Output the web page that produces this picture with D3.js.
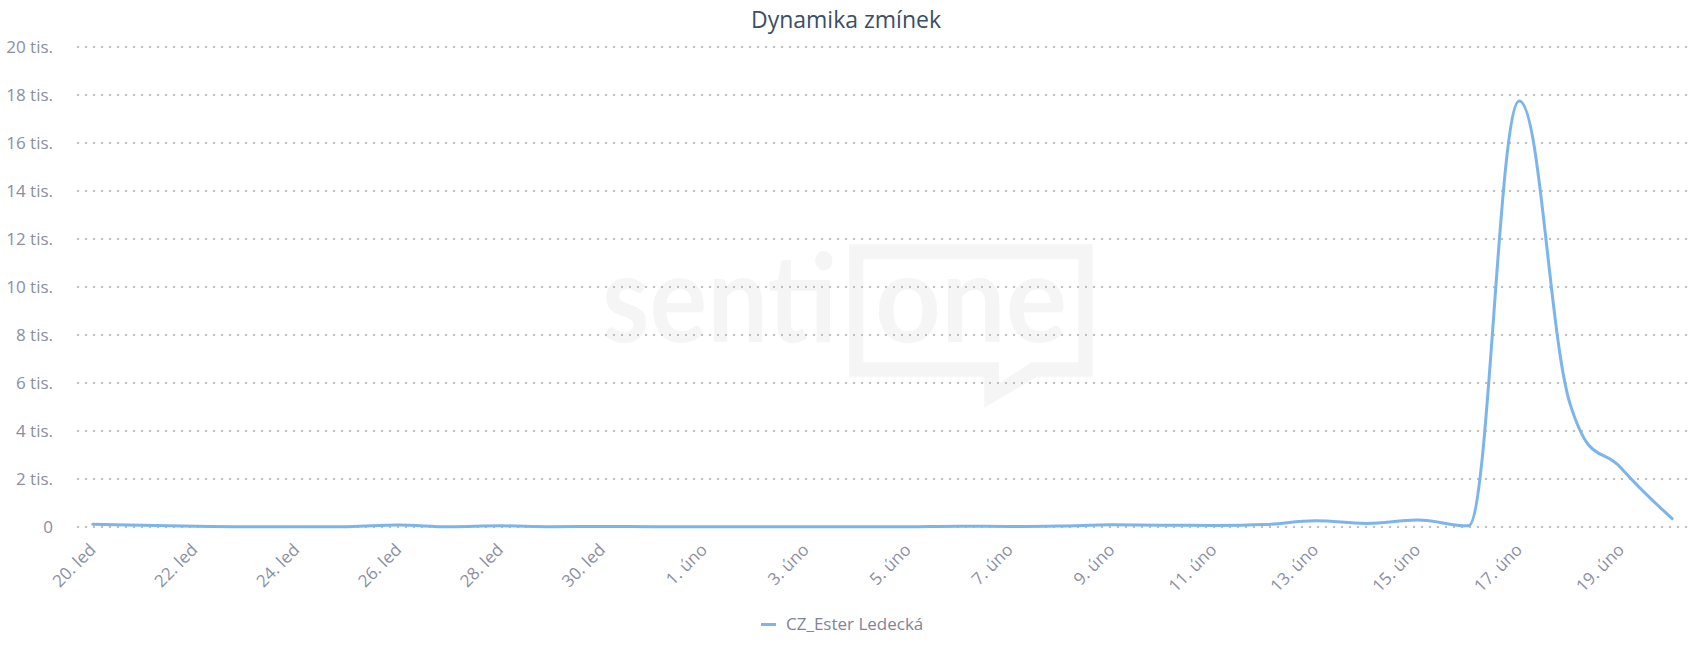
<!DOCTYPE html>
<html>
<head>
<meta charset="utf-8">
<script src="https://cdn.jsdelivr.net/npm/d3@7"></script>
<style>
  html, body { margin: 0; padding: 0; background: #ffffff; }
  svg { display: block; font-family: "Open Sans", sans-serif; }
</style>
</head>
<body>
<svg id="chart" width="1692" height="652"></svg>
<script>
// ---- data ----
const title = "Dynamika zmínek";
const seriesName = "CZ_Ester Ledecká";
const categories = [
  "20. led","21. led","22. led","23. led","24. led","25. led","26. led","27. led",
  "28. led","29. led","30. led","31. led",
  "1. úno","2. úno","3. úno","4. úno","5. úno","6. úno","7. úno","8. úno","9. úno",
  "10. úno","11. úno","12. úno","13. úno","14. úno","15. úno","16. úno","17. úno",
  "18. úno","19. úno","20. úno"
];
const mentions = [
  110, 75, 30, 10, 10, 15, 80, 10,
  50, 15, 20, 15,
  10, 10, 10, 10, 15, 35, 25, 45, 90,
  75, 65, 100, 260, 150, 290, 50, 17750,
  5100, 2450, 350
];
const yTicks = [0, 2000, 4000, 6000, 8000, 10000, 12000, 14000, 16000, 18000, 20000];
const yTickLabels = ["0","2 tis.","4 tis.","6 tis.","8 tis.","10 tis.","12 tis.","14 tis.","16 tis.","18 tis.","20 tis."];
const xTickLabels = categories.filter((d, i) => i % 2 === 0);

// ---- layout ----
const W = 1692, H = 652;
const plotLeft = 77, plotRight = 1688, plotTop = 47, plotBottom = 527;
const lineColor = "#7cb5ec";
const labelColor = "#8a8fa4";

const svg = d3.select("#chart");
svg.append("rect").attr("width", W).attr("height", H).attr("fill", "#ffffff");

const x = d3.scalePoint().domain(categories).range([plotLeft, plotRight]).padding(0.31);
const y = d3.scaleLinear().domain([0, 20000]).range([plotBottom, plotTop]);

// ---- watermark ----
const wm = svg.append("g").attr("fill", "#f5f5f5");
wm.append("text").attr("x", 602).attr("y", 342)
  .attr("font-family", "Lato, sans-serif").attr("font-weight", 700)
  .attr("font-size", 122).attr("textLength", 235).attr("lengthAdjust", "spacingAndGlyphs")
  .text("senti");
wm.append("text").attr("x", 875).attr("y", 342)
  .attr("font-family", "Lato, sans-serif").attr("font-weight", 700)
  .attr("font-size", 122).attr("textLength", 192).attr("lengthAdjust", "spacingAndGlyphs")
  .text("one");
wm.append("path").attr("fill-rule", "evenodd")
  .attr("d", "M849,244.3H1092.7V376.7H1036.7L984.3,407.7V376.7H849Z" +
             "M863.3,259.3H1078.3V362.3H1031.7L999,383.3V362.3H863.3Z");

// ---- grid ----
const grid = svg.append("g");
grid.selectAll("line").data(yTicks).join("line")
  .attr("x1", plotLeft).attr("x2", plotRight)
  .attr("y1", d => y(d)).attr("y2", d => y(d))
  .attr("stroke", "#bdbdbd").attr("stroke-width", 2)
  .attr("stroke-dasharray", "2,6");

// ---- y labels ----
svg.append("g").selectAll("text").data(yTicks).join("text")
  .attr("x", 53).attr("y", d => y(d) + 6)
  .attr("text-anchor", "end")
  .attr("font-size", 17).attr("fill", labelColor)
  .text((d, i) => yTickLabels[i]);

// ---- x labels ----
svg.append("g").selectAll("text").data(xTickLabels).join("text")
  .attr("text-anchor", "end")
  .attr("font-size", 17).attr("fill", labelColor)
  .attr("transform", d => `translate(${x(d) + 4},${plotBottom + 24}) rotate(-45)`)
  .text(d => d);

// ---- Highcharts-like spline ----
function splinePath(pts) {
  const p = d3.path();
  const sm = 1.5, den = sm + 1;
  const ctrl = pts.map((pt, i) => {
    if (i === 0 || i === pts.length - 1) return null;
    const last = pts[i - 1], next = pts[i + 1];
    let lx = (sm * pt[0] + last[0]) / den, ly = (sm * pt[1] + last[1]) / den;
    let rx = (sm * pt[0] + next[0]) / den, ry = (sm * pt[1] + next[1]) / den;
    let corr = 0;
    if (rx !== lx) corr = ((ry - ly) * (rx - pt[0])) / (rx - lx) + pt[1] - ry;
    ly += corr; ry += corr;
    if (ly > last[1] && ly > pt[1]) { ly = Math.max(last[1], pt[1]); ry = 2 * pt[1] - ly; }
    else if (ly < last[1] && ly < pt[1]) { ly = Math.min(last[1], pt[1]); ry = 2 * pt[1] - ly; }
    if (ry > next[1] && ry > pt[1]) { ry = Math.max(next[1], pt[1]); ly = 2 * pt[1] - ry; }
    else if (ry < next[1] && ry < pt[1]) { ry = Math.min(next[1], pt[1]); ly = 2 * pt[1] - ry; }
    return { lx, ly, rx, ry };
  });
  p.moveTo(pts[0][0], pts[0][1]);
  for (let i = 1; i < pts.length; i++) {
    const a = pts[i - 1], b = pts[i];
    const c1 = ctrl[i - 1] ? [ctrl[i - 1].rx, ctrl[i - 1].ry] : a;
    const c2 = ctrl[i] ? [ctrl[i].lx, ctrl[i].ly] : b;
    p.bezierCurveTo(c1[0], c1[1], c2[0], c2[1], b[0], b[1]);
  }
  return p.toString();
}

const pts = mentions.map((v, i) => [x(categories[i]), y(v)]);
svg.append("path")
  .attr("d", splinePath(pts))
  .attr("fill", "none").attr("stroke", lineColor).attr("stroke-width", 3)
  .attr("stroke-linejoin", "round").attr("stroke-linecap", "round");

// ---- title ----
svg.append("text").attr("x", W / 2).attr("y", 28)
  .attr("text-anchor", "middle").attr("font-size", 23).attr("fill", "#3b4f66")
  .text(title);

// ---- legend ----
const lg = svg.append("g");
lg.append("line").attr("x1", 761).attr("x2", 776).attr("y1", 624.5).attr("y2", 624.5)
  .attr("stroke", lineColor).attr("stroke-width", 3);
lg.append("text").attr("x", 786).attr("y", 629.5)
  .attr("font-size", 17).attr("fill", "#7f8599")
  .text(seriesName);
</script>
</body>
</html>
